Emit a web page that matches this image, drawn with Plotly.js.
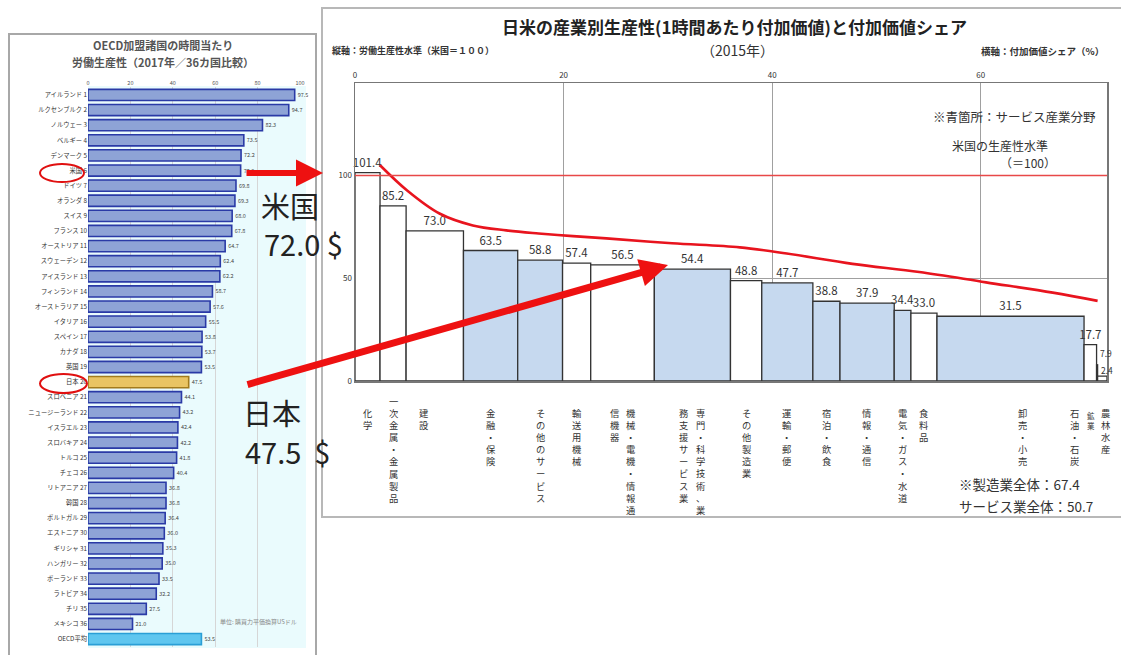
<!DOCTYPE html>
<html><head><meta charset="utf-8">
<script src="https://cdn.plot.ly/plotly-3.0.1.min.js"></script>
<style>html,body{margin:0;padding:0;background:#fff}</style>
</head><body><div id="chart" style="width:1121px;height:655px"></div>
<script>
// ---- Left chart data: OECD labour productivity per hour, 2017 (USD PPP)
const countries = ['アイルランド','ルクセンブルク','ノルウェー','ベルギー','デンマーク','米国','ドイツ','オランダ','スイス','フランス','オーストリア','スウェーデン','アイスランド','フィンランド','オーストラリア','イタリア','スペイン','カナダ','英国','日本','スロベニア','ニュージーランド','イスラエル','スロバキア','トルコ','チェコ','リトアニア','韓国','ポルトガル','エストニア','ギリシャ','ハンガリー','ポーランド','ラトビア','チリ','メキシコ'];
const productivity2017 = [97.5,94.7,82.3,73.5,72.2,72.0,69.8,69.3,68.0,67.8,64.7,62.4,62.2,58.7,57.6,55.5,53.8,53.7,53.5,47.5,44.1,43.2,42.4,42.2,41.8,40.4,36.8,36.8,36.4,36.0,35.3,35.0,33.5,32.2,27.5,21.0];
const oecdLabel = 'OECD平均';
const oecdAverage = 53.5;
const xTicksLeft = [0,20,40,60,80,100];

// ---- Right chart data: Japan productivity by industry (US=100) and value-added share, 2015
const industries = ['化学','一次金属・金属製品','建設','金融・保険','その他のサービス','輸送用機械','機械・電機・情報通信機器','専門・科学技術、業務支援サービス業','その他製造業','運輸・郵便','宿泊・飲食','情報・通信','電気・ガス・水道','食料品','卸売・小売','石油・石炭','鉱業','農林水産'];
const valueAddedShare = [2.4,2.5,5.5,5.2,4.3,2.7,6.1,7.3,3.0,4.9,2.6,5.2,1.6,2.5,14.1,1.2,0.1,0.9];
const productivityVsUS = [101.4,85.2,73.0,63.5,58.8,57.4,56.5,54.4,48.8,47.7,38.8,37.9,34.4,33.0,31.5,17.7,7.9,2.4];
const isService = [0,0,0,1,1,0,0,1,0,1,1,1,1,0,1,0,0,0];
const usLevel = 100;
const curveShare = [2.4,5.0,8.1,11.3,14.5,17.6,20.9,24.1,30.4,36.9,41.4,47.7,54.1,60.5,66.9,71.2];
const curveLevel = [105,92.7,81.5,75.7,73.3,71.8,70.5,69.4,67,65,62,57,53,48,43,39];
const xTicksRight = [0,20,40,60];
const yTicksRight = [0,50,100];
const manufacturingTotal = 67.4;
const serviceTotal = 50.7;

// ---- helpers
const W = 1121, H = 655;
const px = x => x / W;
const py = y => 1 - y / H;
const FONT = '"Noto Sans CJK JP", "Noto Sans", sans-serif';

// left chart
const leftLabels = countries.map((c, i) => c + ' ' + (i + 1)).concat([oecdLabel]);
const leftValues = productivity2017.concat([oecdAverage]);
const jpIdx = countries.indexOf('日本');
const usIdx = countries.indexOf('米国');
const leftFill = leftLabels.map((_, i) => i === jpIdx ? '#e9c463' : (i === leftLabels.length - 1 ? '#5fc6ef' : '#8ea3d6'));
const leftLine = leftLabels.map((_, i) => i === jpIdx ? '#a27b1c' : (i === leftLabels.length - 1 ? '#2a9fd6' : '#2a3aa6'));

const leftTrace = {
  type: 'bar', orientation: 'h', x: leftValues, y: leftLabels,
  xaxis: 'x', yaxis: 'y', width: 0.74,
  marker: {color: leftFill, line: {color: leftLine, width: 1.6}},
  text: leftValues.map(v => v.toFixed(1)), textposition: 'outside', constraintext: 'none',
  cliponaxis: false, textfont: {size: 5.5, color: '#444', family: FONT},
  hoverinfo: 'x+y'
};

// right chart
const starts = [];
let acc = 0;
valueAddedShare.forEach(w => { starts.push(acc); acc += w; });
const totalShare = acc;
const centers = starts.map((s, i) => s + valueAddedShare[i] / 2);
const isNarrow = valueAddedShare.map(w => w < 1);

const rightTrace = {
  type: 'bar', x: centers, y: productivityVsUS, width: valueAddedShare,
  xaxis: 'x2', yaxis: 'y2',
  marker: {color: isService.map(s => s ? '#c6d9ef' : '#ffffff'), line: {color: '#333', width: 1.3}},
  text: productivityVsUS.map((v, i) => isNarrow[i] ? '' : v.toFixed(1)), textposition: 'outside', constraintext: 'none',
  cliponaxis: false, textfont: {size: 11.5, color: '#333', family: FONT},
  customdata: industries, hovertemplate: '%{customdata}: %{y}<extra></extra>'
};

const curveTrace = {
  type: 'scatter', mode: 'lines', x: curveShare, y: curveLevel, xaxis: 'x2', yaxis: 'y2',
  line: {color: '#e8141e', width: 2.6, shape: 'spline', smoothing: 1}, hoverinfo: 'skip'
};

// category labels (vertical text)
const colSplit = {'機械・電機・情報通信機器': 9, '専門・科学技術、業務支援サービス業': 9};
const nudge = {'建設': {dx: -11}, '卸売・小売': {dx: 12}, '石油・石炭': {dx: -16}, '鉱業': {dx: -6, size: 7.5, dy: -4}, '農林水産': {dx: 4}, '一次金属・金属製品': {dy: 12}};
const vert = s => Array.from(s).join('<br>');
const annotations = [];
industries.forEach((name, i) => {
  const n = nudge[name] || {};
  const base = {xref: 'x2', yref: 'paper', x: centers[i], y: py(404 - (n.dy || 0)), yanchor: 'top', xanchor: 'center',
    showarrow: false, font: {size: n.size || 9.3, color: '#333', family: FONT}};
  if (colSplit[name]) {
    const chars = Array.from(name);
    const k = colSplit[name];
    annotations.push(Object.assign({}, base, {text: vert(chars.slice(0, k).join('')), xshift: 8}));
    annotations.push(Object.assign({}, base, {text: vert(chars.slice(k).join('')), xshift: -8}));
  } else {
    annotations.push(Object.assign({}, base, {text: vert(name), xshift: n.dx || 0}));
  }
});

// value labels of very narrow bars, placed beside the bars
const narrowShift = [12, 6];
let nk = 0;
productivityVsUS.forEach((v, i) => {
  if (!isNarrow[i]) return;
  annotations.push({xref: 'x2', yref: 'y2', x: starts[i], y: v, xanchor: 'left', yanchor: 'middle',
    xshift: 2, yshift: narrowShift[nk++] || 6, text: v.toFixed(1), showarrow: false, borderpad: 0,
    font: {size: 8.5, color: '#333', family: FONT}});
});

const txt = (text, x, y, size, opts) => Object.assign({xref: 'paper', yref: 'paper', x: px(x), y: py(y), text: text,
  showarrow: false, font: {size: size, color: '#333', family: FONT}, xanchor: 'center', yanchor: 'middle'}, opts || {});

annotations.push(
  txt('<b>OECD加盟諸国の時間当たり</b>', 163, 45, 11, {font: {size: 11, color: '#555', family: FONT}}),
  txt('<b>労働生産性（2017年／36カ国比較）</b>', 163, 62, 11, {font: {size: 11, color: '#555', family: FONT}}),
  txt('単位: 購買力平価換算USドル', 258, 621, 6, {font: {size: 6, color: '#888', family: FONT}}),
  txt('<b>日米の産業別生産性(1時間あたり付加価値)と付加価値シェア</b>', 734, 26, 17, {font: {size: 17, color: '#222', family: FONT}}),
  txt('（2015年）', 737, 50, 14),
  txt('<b>縦軸：労働生産性水準（米国＝１００）</b>', 330, 51, 9, {xanchor: 'left', font: {size: 9, color: '#333', family: FONT}}),
  txt('<b>横軸：付加価値シェア（%）</b>', 1106, 51, 9.5, {xanchor: 'right', font: {size: 9.5, color: '#333', family: FONT}}),
  txt('※青箇所：サービス産業分野', 1014, 116, 12.5),
  txt('米国の生産性水準', 1000, 145, 12),
  txt('（＝' + usLevel + '）', 1028, 163, 12),
  txt('※製造業全体：' + manufacturingTotal.toFixed(1), 957, 484, 13.5, {xanchor: 'left'}),
  txt('サービス業全体：' + serviceTotal.toFixed(1), 957, 506, 13.5, {xanchor: 'left'}),
  txt('米国', 290, 205, 29, {font: {size: 29, color: '#222', family: FONT}}),
  txt(productivity2017[usIdx].toFixed(1) + ' $', 262, 243, 29, {xanchor: 'left', font: {size: 29, color: '#222', family: FONT}}),
  txt('日本', 272, 412, 29, {font: {size: 29, color: '#222', family: FONT}}),
  txt(productivity2017[jpIdx].toFixed(1) + '  $', 243, 451, 29, {xanchor: 'left', font: {size: 29, color: '#222', family: FONT}}),
  {xref: 'paper', yref: 'paper', x: px(323), y: py(173), ax: -78, ay: 0, text: '', showarrow: true,
   arrowhead: 2, arrowsize: 0.9, arrowwidth: 6, arrowcolor: '#ee1111'},
  {xref: 'paper', yref: 'paper', x: px(668), y: py(265), ax: -422, ay: 120, text: '', showarrow: true,
   arrowhead: 2, arrowsize: 0.8, arrowwidth: 7, arrowcolor: '#ee1111'}
);

const shapes = [
  {type: 'rect', xref: 'paper', yref: 'paper', x0: px(88), x1: px(306), y0: py(648), y1: py(86), layer: 'below',
   fillcolor: '#eafbfd', line: {width: 0}},
  {type: 'rect', xref: 'paper', yref: 'paper', x0: px(9), x1: px(316), y0: py(662), y1: py(34),
   line: {color: '#a8a8a8', width: 2}},
  {type: 'rect', xref: 'paper', yref: 'paper', x0: px(322), x1: px(1124), y0: py(517), y1: py(8),
   line: {color: '#b8b8b8', width: 2}},
  {type: 'line', xref: 'x2 domain', yref: 'y2', x0: 0, x1: 1, y0: usLevel, y1: usLevel,
   line: {color: '#e84848', width: 1.5}},
  {type: 'circle', xref: 'paper', yref: 'paper', x0: px(40), x1: px(84), y0: py(182), y1: py(164),
   line: {color: '#e01010', width: 2}},
  {type: 'circle', xref: 'paper', yref: 'paper', x0: px(40), x1: px(87), y0: py(393), y1: py(374),
   line: {color: '#e01010', width: 2}}
];

const layout = {
  width: W, height: H, margin: {l: 0, r: 0, t: 0, b: 0},
  paper_bgcolor: '#ffffff', plot_bgcolor: 'rgba(0,0,0,0)', showlegend: false,
  font: {family: FONT, color: '#333'},
  xaxis: {domain: [px(88), px(300)], range: [0, 100], side: 'top', anchor: 'y', tickvals: xTicksLeft,
    tickfont: {size: 5.5, color: '#555'}, gridcolor: '#d6d6d6', zeroline: false, showline: false, fixedrange: true},
  yaxis: {domain: [py(646.6), py(87.4)], type: 'category', autorange: 'reversed', anchor: 'x',
    tickfont: {size: 6.3, color: '#333'}, ticks: '', showgrid: false, showline: false, fixedrange: true},
  xaxis2: {domain: [px(355), px(1107)], range: [0, totalShare], side: 'top', anchor: 'y2', tickvals: xTicksRight,
    tickfont: {size: 8, color: '#333'}, gridcolor: '#a0a0a0', gridwidth: 1, zeroline: false,
    showline: true, mirror: true, linecolor: '#777', linewidth: 1.5, ticks: '', fixedrange: true},
  yaxis2: {domain: [py(381), py(83)], range: [0, 145], anchor: 'x2', tickvals: yTicksRight,
    tickfont: {size: 8, color: '#333'}, gridcolor: '#a0a0a0', zeroline: false,
    showline: true, mirror: true, linecolor: '#777', linewidth: 1.5, ticks: '', fixedrange: true},
  bargap: 0,
  shapes: shapes,
  annotations: annotations
};

Plotly.newPlot('chart', [leftTrace, rightTrace, curveTrace], layout, {displayModeBar: false, staticPlot: true});
</script>
</body></html>
